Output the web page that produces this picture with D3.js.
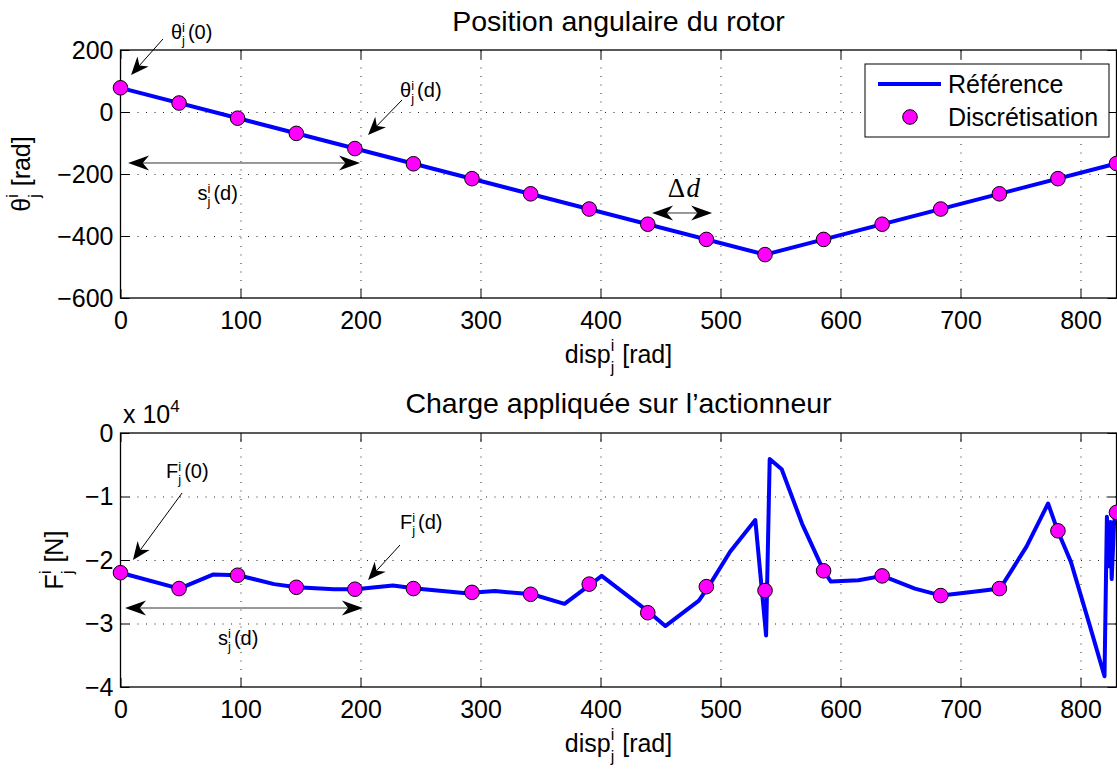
<!DOCTYPE html>
<html><head><meta charset="utf-8">
<script src="https://cdn.jsdelivr.net/npm/d3@7"></script>
<style>
body{margin:0;background:#fff;}
svg{display:block;}
text{font-family:"Liberation Sans",Arial,Helvetica,sans-serif;fill:#000;}
</style></head>
<body><svg id="c" width="1117" height="769"></svg>
<script>
// ---------- data ----------
const xTicks = [0, 100, 200, 300, 400, 500, 600, 700, 800];
const thetaTicks = [-600, -400, -200, 0, 200];
const forceTicks = [-40000, -30000, -20000, -10000, 0];
const forceTickLabels = ["\u22124", "\u22123", "\u22122", "\u22121", "0"];

// discretisation abscissae (disp)
const discX = [0, 48.8, 97.6, 146.5, 195.3, 244.1, 292.9, 341.8, 390.6, 439.4, 488.2, 537.1, 585.9, 634.7, 683.5, 732.4, 781.2, 830];
// top: angular position
const thetaRefX = [0, 537.1, 830];
const thetaRef = [78, -460, -166];
const thetaDisc = [78, 29, -20, -69, -118, -167, -215, -264, -313, -362, -411, -460, -411, -362, -313, -264, -215, -166];
// bottom: applied load [N]
const forceRefX = [0, 49, 77, 98, 128, 147, 178, 196, 227, 246, 286, 295, 312, 343, 370, 392, 401, 441, 454, 482, 490, 508, 529, 538, 541, 551, 568, 586, 592, 615, 635, 662, 684, 711, 733, 755, 773, 781, 792, 808, 820, 822, 824, 825, 826, 828, 830];
const forceRef = [-22000, -24500, -22300, -22400, -23800, -24300, -24600, -24600, -24000, -24500, -25200, -25100, -24900, -25400, -26900, -23800, -22500, -28300, -30400, -26400, -24200, -18700, -13700, -31900, -4100, -5700, -14300, -21700, -23400, -23200, -22500, -24500, -25600, -25000, -24500, -17900, -11100, -15400, -20300, -30500, -38300, -13200, -21000, -14000, -23000, -14000, -12500];
const forceDisc = [-22000, -24500, -22400, -24300, -24600, -24500, -25100, -25400, -23800, -28300, -24200, -24800, -21700, -22500, -25600, -24500, -15400, -12500];

const titles = ["Position angulaire du rotor", "Charge appliqu\u00e9e sur l\u2019actionneur"];
const legendLabels = ["R\u00e9f\u00e9rence", "Discr\u00e9tisation"];

// ---------- layout ----------
const svg = d3.select("#c");
const L = 120.5, R = 1116.5;
const top1 = 50, bot1 = 298, top2 = 433, bot2 = 687;
const FS = 25, TFS = 28.5, AFS = 20;
const BLUE = "#0000ff", MAG = "#ff00ff";

const x = d3.scaleLinear().domain([0, 830]).range([L, R]);
const yT = d3.scaleLinear().domain([-600, 200]).range([bot1, top1]);
const yB = d3.scaleLinear().domain([-40000, 0]).range([bot2, top2]);

// rich text: parts = [{t:".."},{sup:"i",sub:"j"}]
function rich(parent, parts, size, opt) {
  opt = opt || {};
  const g = parent.append("g");
  const ss = opt.scriptSize || size * 0.7;
  const supDy = opt.supDy || -size * 0.4, subDy = opt.subDy || size * 0.3;
  let cx = 0;
  parts.forEach(p => {
    if (p.t !== undefined) {
      const t = g.append("text").attr("x", cx).attr("y", 0).style("font-size", (p.size || size) + "px")
        .attr("xml:space", "preserve").text(p.t);
      if (p.serif) t.style("font-family", "'Liberation Serif','DejaVu Serif',serif");
      if (p.italic) t.style("font-style", "italic");
      cx += t.node().getComputedTextLength() + (p.after || 0);
    } else {
      let w = 0;
      if (p.sup) { const t = g.append("text").attr("x", cx).attr("y", supDy).style("font-size", ss + "px").text(p.sup); w = Math.max(w, t.node().getComputedTextLength()); }
      if (p.sub) { const t = g.append("text").attr("x", cx).attr("y", subDy).style("font-size", ss + "px").text(p.sub); w = Math.max(w, t.node().getComputedTextLength()); }
      cx += w + (opt.scriptGap !== undefined ? opt.scriptGap : 1.5);
    }
  });
  if (opt.anchor === "middle") g.selectAll("text").attr("x", function () { return +this.getAttribute("x") - cx / 2; });
  return g;
}

function arrowHead(g, tx, ty, ux, uy, Lh, Wh) {
  const px = -uy, py = ux, n = Lh * 0.7;
  g.append("path").attr("d",
    `M${tx},${ty}L${tx - ux * Lh + px * Wh},${ty - uy * Lh + py * Wh}L${tx - ux * n},${ty - uy * n}L${tx - ux * Lh - px * Wh},${ty - uy * Lh - py * Wh}Z`)
    .attr("fill", "#000");
}
function arrow(g, x1, y1, x2, y2) {
  const dx = x2 - x1, dy = y2 - y1, len = Math.hypot(dx, dy), ux = dx / len, uy = dy / len;
  const Lh = 18, Wh = 7.5;
  g.append("line").attr("x1", x1).attr("y1", y1).attr("x2", x2 - ux * Lh * 0.7).attr("y2", y2 - uy * Lh * 0.7)
    .attr("stroke", "#000").attr("stroke-width", 1);
  arrowHead(g, x2, y2, ux, uy, Lh, Wh);
}
function dblArrow(g, x1, y1, x2, y2) {
  const dx = x2 - x1, dy = y2 - y1, len = Math.hypot(dx, dy), ux = dx / len, uy = dy / len;
  const Lh = 21, Wh = 7.5;
  g.append("line").attr("x1", x1 + ux * Lh * 0.7).attr("y1", y1 + uy * Lh * 0.7)
    .attr("x2", x2 - ux * Lh * 0.7).attr("y2", y2 - uy * Lh * 0.7)
    .attr("stroke", "#333").attr("stroke-width", 1);
  arrowHead(g, x2, y2, ux, uy, Lh, Wh);
  arrowHead(g, x1, y1, -ux, -uy, Lh, Wh);
}

function panel(y, yTicks, top, bot) {
  const g = svg.append("g");
  const dots = a => a.selectAll("line").attr("stroke", "#222").attr("stroke-width", 1).attr("stroke-dasharray", "1,7.5");
  g.append("g").attr("transform", `translate(0,${bot})`)
    .call(d3.axisBottom(x).tickValues(xTicks.slice(1)).tickSize(-(bot - top)).tickFormat("").tickSizeOuter(0))
    .call(a => a.select(".domain").remove()).call(dots);
  g.append("g").attr("transform", `translate(${L},0)`)
    .call(d3.axisLeft(y).tickValues(yTicks.slice(1, -1)).tickSize(-(R - L)).tickFormat("").tickSizeOuter(0))
    .call(a => a.select(".domain").remove()).call(dots);
  return g;
}
function frame(g, y, yTicks, yFmt, top, bot) {
  const style = a => { a.select(".domain").remove(); a.selectAll("line").attr("stroke", "#000").attr("stroke-width", 1); a.selectAll("text").style("font-size", FS + "px").attr("fill", "#000").style("font-family", "'Liberation Sans',Arial,sans-serif"); };
  g.append("g").attr("transform", `translate(0,${bot})`)
    .call(d3.axisBottom(x).tickValues(xTicks).tickSize(-9).tickPadding(13).tickSizeOuter(0)).call(style);
  g.append("g").attr("transform", `translate(0,${top})`)
    .call(d3.axisTop(x).tickValues(xTicks).tickSize(-9).tickFormat("").tickSizeOuter(0)).call(style);
  g.append("g").attr("transform", `translate(${L},0)`)
    .call(d3.axisLeft(y).tickValues(yTicks).tickSize(-9).tickPadding(7).tickFormat(yFmt).tickSizeOuter(0)).call(style);
  g.append("g").attr("transform", `translate(${R},0)`)
    .call(d3.axisRight(y).tickValues(yTicks).tickSize(-9).tickFormat("").tickSizeOuter(0)).call(style);
  g.append("rect").attr("x", L).attr("y", top).attr("width", R - L).attr("height", bot - top)
    .attr("fill", "none").attr("stroke", "#000").attr("stroke-width", 1.3);
}

// ---------- top panel ----------
const g1 = panel(yT, thetaTicks, top1, bot1);
frame(g1, yT, thetaTicks, d => d3.format("")(d), top1, bot1);
const lineT = d3.line().x((d, i) => x(thetaRefX[i])).y(d => yT(d));
g1.append("path").attr("d", lineT(thetaRef)).attr("fill", "none").attr("stroke", BLUE).attr("stroke-width", 4).attr("stroke-linejoin", "round");
g1.selectAll("circle").data(thetaDisc).join("circle")
  .attr("cx", (d, i) => x(discX[i])).attr("cy", d => yT(d)).attr("r", 7.3)
  .attr("fill", MAG).attr("stroke", "#000").attr("stroke-width", 1);

// ---------- bottom panel ----------
const g2 = panel(yB, forceTicks, top2, bot2);
frame(g2, yB, forceTicks, d => forceTickLabels[forceTicks.indexOf(d)], top2, bot2);
const lineB = d3.line().x((d, i) => x(forceRefX[i])).y(d => yB(d));
g2.append("path").attr("d", lineB(forceRef)).attr("fill", "none").attr("stroke", BLUE).attr("stroke-width", 4).attr("stroke-linejoin", "round");
g2.selectAll("circle").data(forceDisc).join("circle")
  .attr("cx", (d, i) => x(discX[i])).attr("cy", d => yB(d)).attr("r", 7.3)
  .attr("fill", MAG).attr("stroke", "#000").attr("stroke-width", 1);

// ---------- titles & labels ----------
svg.append("text").attr("x", (L + R) / 2).attr("y", 31).attr("text-anchor", "middle").style("font-size", TFS + "px").text(titles[0]);
svg.append("text").attr("x", (L + R) / 2).attr("y", 413).attr("text-anchor", "middle").style("font-size", TFS + "px").text(titles[1]);

const labOpt = { scriptSize: 16, supDy: -12, subDy: 10, anchor: "middle", scriptGap: 1 };
rich(svg.append("g").attr("transform", `translate(${(L + R) / 2},363)`), [{ t: "disp" }, { sup: "i", sub: "j" }, { t: " [rad]" }], FS, labOpt);
rich(svg.append("g").attr("transform", `translate(${(L + R) / 2},752)`), [{ t: "disp" }, { sup: "i", sub: "j" }, { t: " [rad]" }], FS, labOpt);
rich(svg.append("g").attr("transform", `translate(30,${(top1 + bot1) / 2}) rotate(-90)`), [{ t: "\u03b8" }, { sup: "i", sub: "j" }, { t: " [rad]" }], FS, labOpt);
rich(svg.append("g").attr("transform", `translate(63,${(top2 + bot2) / 2}) rotate(-90)`), [{ t: "F" }, { sup: "i", sub: "j" }, { t: " [N]" }], FS, labOpt);

// exponent
rich(svg.append("g").attr("transform", `translate(123,423)`), [{ t: "x 10" }, { sup: "4" }], FS, { scriptSize: 17, supDy: -11, scriptGap: 0 });

// ---------- legend ----------
const lg = svg.append("g");
lg.append("rect").attr("x", 865).attr("y", 64).attr("width", 244).attr("height", 73).attr("fill", "#fff").attr("stroke", "#000").attr("stroke-width", 1);
lg.append("line").attr("x1", 878).attr("x2", 941).attr("y1", 84).attr("y2", 84).attr("stroke", BLUE).attr("stroke-width", 4);
lg.append("circle").attr("cx", 910).attr("cy", 117).attr("r", 7.3).attr("fill", MAG).attr("stroke", "#000").attr("stroke-width", 1);
lg.append("text").attr("x", 948).attr("y", 93).style("font-size", FS + "px").text(legendLabels[0]);
lg.append("text").attr("x", 948).attr("y", 126).style("font-size", FS + "px").text(legendLabels[1]);

// ---------- annotations (data coordinates) ----------
const an = svg.append("g");
const aOpt = { scriptSize: 13, supDy: -7, subDy: 6, scriptGap: 3 };
// top
rich(an.append("g").attr("transform", `translate(${x(42)},${yT(236)})`), [{ t: "\u03b8" }, { sup: "i", sub: "j" }, { t: "(0)" }], AFS, aOpt);
arrow(an, x(35.4), yT(235.5), x(8.8), yT(119.4));
rich(an.append("g").attr("transform", `translate(${x(233)},${yT(48)})`), [{ t: "\u03b8" }, { sup: "i", sub: "j" }, { t: "(d)" }], AFS, aOpt);
arrow(an, x(234.6), yT(38.7), x(206.3), yT(-74.2));
dblArrow(an, x(6.3), yT(-164.5), x(199.6), yT(-164.5));
rich(an.append("g").attr("transform", `translate(${x(64.2)},${yT(-283)})`), [{ t: "s" }, { sup: "i", sub: "j" }, { t: "(d)" }], AFS, aOpt);
rich(an.append("g").attr("transform", `translate(${x(456)},${yT(-274)})`), [{ t: "\u0394", serif: true, after: 1.5 }, { t: "d", serif: true, italic: true }], 27, {});
dblArrow(an, x(443), yT(-325.8), x(493), yT(-325.8));
// bottom
rich(an.append("g").attr("transform", `translate(${x(38)},${yB(-7130)})`), [{ t: "F" }, { sup: "i", sub: "j" }, { t: "(0)" }], AFS, aOpt);
arrow(an, x(51.3), yB(-9450), x(10.4), yB(-20000));
rich(an.append("g").attr("transform", `translate(${x(232.9)},${yB(-15165)})`), [{ t: "F" }, { sup: "i", sub: "j" }, { t: "(d)" }], AFS, aOpt);
arrow(an, x(232.9), yB(-17640), x(206.3), yB(-23150));
dblArrow(an, x(3.8), yB(-27560), x(202), yB(-27560));
rich(an.append("g").attr("transform", `translate(${x(81.3)},${yB(-33390)})`), [{ t: "s" }, { sup: "i", sub: "j" }, { t: "(d)" }], AFS, aOpt);
</script></body></html>
